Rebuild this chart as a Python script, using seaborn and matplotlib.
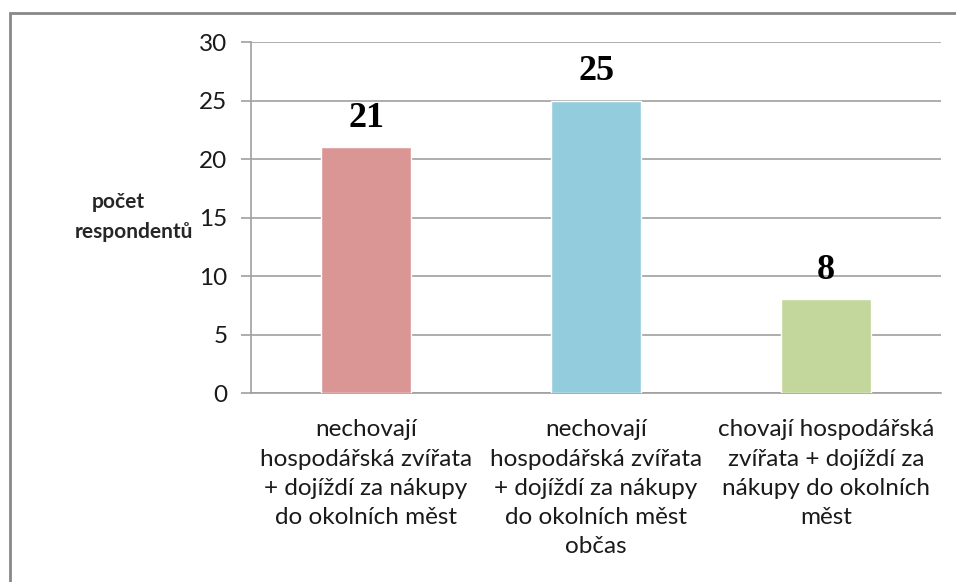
"""
pocet respondentu podle chovu zvirat a dojizdeni za nakupy
"""

import matplotlib

matplotlib.use("Agg")
import matplotlib.pyplot as plt
import pandas as pd
import seaborn as sns
from matplotlib.patches import Rectangle

categories = [
    "nechovají\nhospodářská zvířata\n+ dojíždí za nákupy\ndo okolních měst",
    "nechovají\nhospodářská zvířata\n+ dojíždí za nákupy\ndo okolních měst\nobčas",
    "chovají hospodářská\nzvířata + dojíždí za\nnákupy do okolních\nměst",
]
counts = [21, 25, 8]
bar_colors = ["#D99694", "#93CDDD", "#C3D69B"]
y_ticks = [0, 5, 10, 15, 20, 25, 30]
y_label_lines = ["počet", "respondentů"]

df = pd.DataFrame({"kategorie": categories, "pocet": counts})

sns.set_style("white")
plt.rcParams["font.family"] = ["Lato", "DejaVu Sans"]

fig = plt.figure(figsize=(9.56, 5.82), dpi=100)
ax = fig.add_axes([0.2626, 0.3247, 0.7218, 0.6031])

sns.barplot(
    data=df,
    x="kategorie",
    y="pocet",
    hue="kategorie",
    palette=bar_colors,
    width=0.39,
    legend=False,
    saturation=1,
    ax=ax,
    zorder=3,
)

# value labels above bars
for i, v in enumerate(counts):
    ax.annotate(
        str(v),
        xy=(i, v),
        xytext=(0, 9),
        textcoords="offset points",
        ha="center",
        va="bottom",
        fontsize=26,
        fontweight="bold",
        family="Liberation Serif",
        color="black",
    )

grid_c = "#A0A0A0"
ax.set_ylim(0, 30)
ax.set_xlim(-0.5, 2.5)
ax.set_yticks(y_ticks)
ax.yaxis.grid(True, color=grid_c, linewidth=1.2, zorder=0)
ax.set_axisbelow(True)

# tick marks at the category boundaries, labels at the centres
ax.set_xticks([-0.5, 0.5, 1.5, 2.5], minor=True)
ax.tick_params(axis="x", which="minor", length=7, width=1.2, color=grid_c, direction="out")
ax.tick_params(axis="x", which="major", length=0, pad=19, labelsize=17.5, labelcolor="#1a1a1a")
ax.tick_params(axis="y", length=7, width=1.2, color=grid_c, direction="out", pad=10,
               labelsize=17.5, labelcolor="#1a1a1a", left=True)
for lbl in ax.get_xticklabels():
    lbl.set_linespacing(1.48)

for s in ["top", "right"]:
    ax.spines[s].set_visible(False)
for s in ["left", "bottom"]:
    ax.spines[s].set_color(grid_c)
    ax.spines[s].set_linewidth(1.2)

ax.set_xlabel("")
ax.set_ylabel("")
# y axis title, two lines as in the original
ax.text(-0.193, 0.543, y_label_lines[0], transform=ax.transAxes, fontsize=15,
        fontweight="bold", ha="center", va="center")
ax.text(-0.169, 0.46, y_label_lines[1], transform=ax.transAxes, fontsize=15,
        fontweight="bold", ha="center", va="center")

# outer frame of the chart area
fig.patches.append(
    Rectangle((9.5 / 956, -0.1), 1.2, 1 - 12.5 / 582 + 0.1, transform=fig.transFigure,
              fill=False, edgecolor="#888888", linewidth=2)
)

fig.savefig("out.png", dpi=100)
